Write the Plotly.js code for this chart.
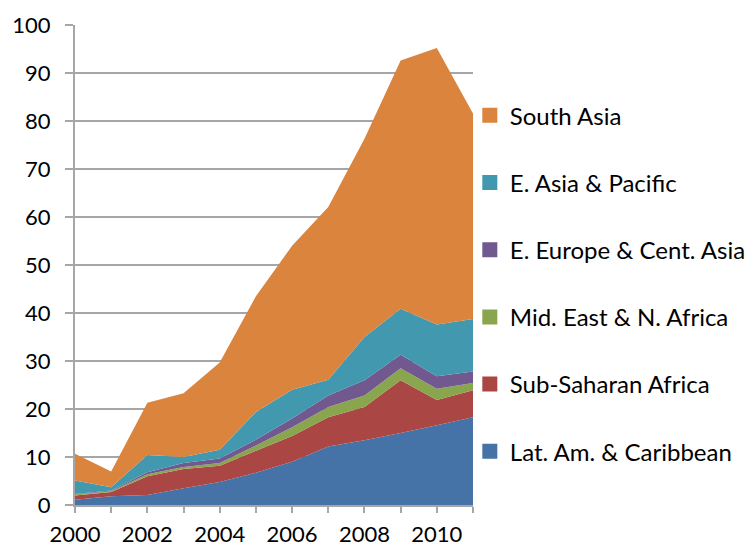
<!DOCTYPE html>
<html>
<head>
<meta charset="utf-8">
<script src="https://cdn.plot.ly/plotly-3.0.1.min.js"></script>
<style>html,body{margin:0;padding:0;background:#fff;}#chart{width:752px;height:550px;}</style>
</head>
<body>
<div id="chart"></div>
<script>
const years = [2000, 2001, 2002, 2003, 2004, 2005, 2006, 2007, 2008, 2009, 2010, 2011];
const seriesNames = ["Lat. Am. & Caribbean", "Sub-Saharan Africa", "Mid. East & N. Africa", "E. Europe & Cent. Asia", "E. Asia & Pacific", "South Asia"];
const latAm      = [1.1, 1.8, 2.1, 3.5, 4.8, 6.7, 9.0, 12.2, 13.5, 15.0, 16.6, 18.3];
const subSaharan = [0.9, 0.9, 3.9, 4.0, 3.4, 4.6, 5.4, 6.1, 6.9, 11.0, 5.3, 5.6];
const midEast    = [0.2, 0.15, 0.4, 0.4, 0.55, 1.1, 1.8, 2.1, 2.4, 2.5, 2.3, 1.5];
const eEurope    = [0.1, 0.15, 0.4, 0.85, 0.95, 1.2, 1.8, 2.4, 3.2, 2.8, 2.6, 2.4];
const eAsia      = [2.8, 0.7, 3.6, 1.25, 1.8, 5.8, 6.0, 3.3, 9.0, 9.6, 10.8, 10.95];
const southAsia  = [5.6, 3.3, 10.9, 13.3, 18.2, 24.1, 30.0, 36.0, 41.3, 51.7, 57.6, 42.8];
const seriesValues = [latAm, subSaharan, midEast, eEurope, eAsia, southAsia];
const colors = ["#4572A7", "#AA4643", "#89A54E", "#71588F", "#4198AF", "#DB843D"];
const xTickVals = [2000, 2002, 2004, 2006, 2008, 2010];

const traces = [];
seriesValues.forEach((vals, i) => {
  traces.push({
    type: "scatter", x: years, y: vals, name: seriesNames[i],
    stackgroup: "one", mode: "none", fillcolor: colors[i],
    showlegend: false, hoverinfo: "skip"
  });
});
// legend entries, top to bottom: South Asia ... Lat. Am.
for (let i = seriesValues.length - 1; i >= 0; i--) {
  traces.push({
    type: "scatter", x: [null], y: [null], name: seriesNames[i],
    mode: "markers", legendgroup: "g" + (5 - i),
    marker: {symbol: "square", size: 15, color: colors[i]},
    showlegend: true
  });
}

const gridGray = "#A6A6A6";
const layout = {
  width: 752, height: 550,
  margin: {l: 75, r: 279, t: 25, b: 45, autoexpand: false},
  paper_bgcolor: "#fff", plot_bgcolor: "#fff",
  font: {family: "Lato, 'Open Sans', sans-serif", size: 22, color: "#000"},
  showlegend: true,
  legend: {
    x: 0.992, xanchor: "left", y: 0.461, yanchor: "middle",
    traceorder: "grouped", tracegroupgap: 33,
    font: {size: 24, color: "#000"}, bgcolor: "rgba(0,0,0,0)"
  },
  xaxis: {
    type: "linear", range: [2000, 2011],
    tickvals: xTickVals, ticktext: xTickVals.map(String),
    ticks: "outside", ticklen: 6, tickwidth: 2, tickcolor: gridGray,
    minor: {dtick: 1, tick0: 2000, ticks: "outside", ticklen: 6, tickwidth: 2, tickcolor: gridGray, showgrid: false},
    showline: true, linecolor: gridGray, linewidth: 2,
    showgrid: false, zeroline: false, fixedrange: true, ticklabelstandoff: 3
  },
  yaxis: {
    range: [0, 100], dtick: 10,
    ticks: "outside", ticklen: 8, tickwidth: 2, tickcolor: gridGray,
    showline: true, linecolor: gridGray, linewidth: 2,
    showgrid: true, gridcolor: gridGray, gridwidth: 2,
    zeroline: false, ticklabelstandoff: 10, fixedrange: true
  }
};
Plotly.newPlot("chart", traces, layout, {displayModeBar: false, staticPlot: true});
</script>
</body>
</html>
